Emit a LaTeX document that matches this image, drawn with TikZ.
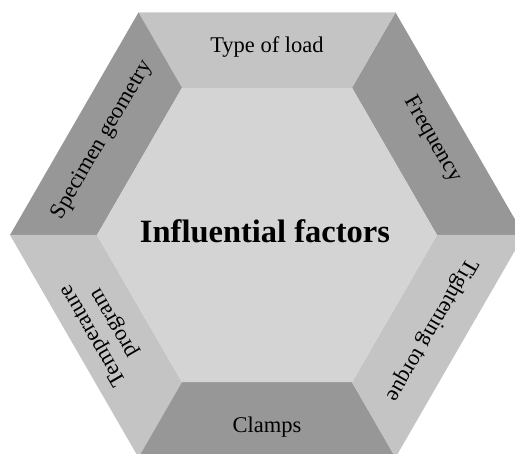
\documentclass[tikz,border=0pt]{standalone}
\usepackage{fontspec}
\setmainfont{Liberation Serif}
\usepackage{tikz}
\definecolor{hexinner}{RGB}{212,212,212}
\definecolor{hexlight}{RGB}{196,196,196}
\definecolor{hexdark}{RGB}{151,151,151}

\begin{document}
\begin{tikzpicture}[x=1pt, y=1pt,
  factor/.style={font=\fontsize{22.5}{24}\selectfont, align=center, inner sep=0pt}
]
  \useasboundingbox (-267,-219) rectangle (248,235);

  % Outer ring: six trapezoids, dark and light in turn
  \fill[hexdark]  (0:257)   -- (60:257)  -- (60:170)  -- (0:170)   -- cycle;
  \fill[hexlight] (60:257)  -- (120:257) -- (120:170) -- (60:170)  -- cycle;
  \fill[hexdark]  (120:257) -- (180:257) -- (180:170) -- (120:170) -- cycle;
  \fill[hexlight] (180:257) -- (240:257) -- (240:170) -- (180:170) -- cycle;
  \fill[hexdark]  (240:257) -- (300:257) -- (300:170) -- (240:170) -- cycle;
  \fill[hexlight] (300:257) -- (360:257) -- (360:170) -- (300:170) -- cycle;

  % Inner hexagon
  \fill[hexinner] (0:170) -- (60:170) -- (120:170) -- (180:170) -- (240:170) -- (300:170) -- cycle;
  \node[font=\bfseries\fontsize{32.5}{36}\selectfont] (centre) at (-2,4) {Influential factors};

  % Factors along the sides
  \node[factor] (load) at (90:188) {Type of load};
  \node[factor, rotate=-60] (freq) at (30:191) {Frequency};
  \node[factor, rotate=-120] (torque) at (330:190) {Tightening torque};
  \node[factor] (clamps) at (270:192) {Clamps};
  \node[factor, rotate=120] (temp) at (210:188) {Temperature\\program};
  \node[factor, rotate=60] (geom) at (150:190) {Specimen geometry};
\end{tikzpicture}
\end{document}
